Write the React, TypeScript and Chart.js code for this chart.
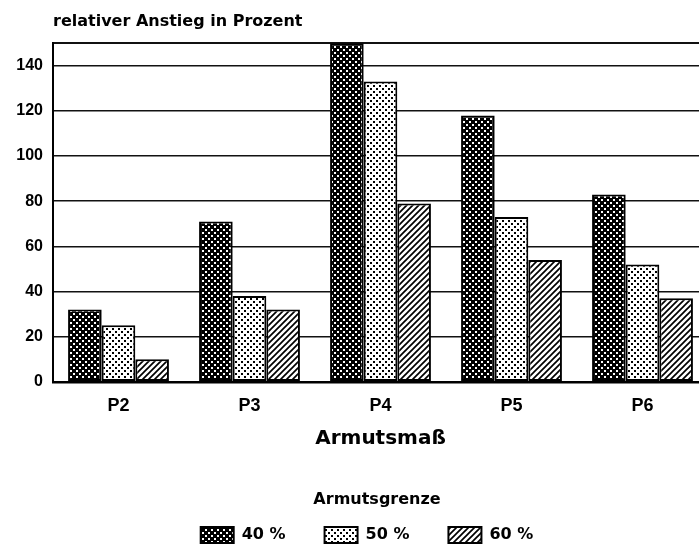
import React, { useEffect, useRef } from 'react';
import { Chart, registerables } from 'chart.js';

Chart.register(...registerables);

const categories = ['P2', 'P3', 'P4', 'P5', 'P6'];
const seriesLabels = ['40 %', '50 %', '60 %'];
const values40 = [32, 71, 150, 118, 83];
const values50 = [25, 38, 133, 73, 52];
const values60 = [10, 32, 79, 54, 37];
const yTickValues = [0, 20, 40, 60, 80, 100, 120, 140];

const WIDE = "'DejaVu Sans', 'Liberation Sans', Arial, sans-serif";
const SANS = "'Liberation Sans', Arial, sans-serif";

function makeTile(size: number, draw: (c: CanvasRenderingContext2D) => void): CanvasPattern {
  const cv = document.createElement('canvas');
  cv.width = size;
  cv.height = size;
  const c = cv.getContext('2d')!;
  draw(c);
  return c.createPattern(cv, 'repeat')!;
}

function darkPattern() {
  return makeTile(6, (c) => {
    c.fillStyle = '#000';
    c.fillRect(0, 0, 6, 6);
    c.fillStyle = '#fff';
    c.fillRect(1, 1, 2, 2);
    c.fillRect(4, 4, 2, 2);
  });
}

function lightPattern() {
  return makeTile(6, (c) => {
    c.fillStyle = '#fff';
    c.fillRect(0, 0, 6, 6);
    c.fillStyle = '#000';
    c.fillRect(1, 1, 2, 2);
    c.fillRect(4, 4, 2, 2);
  });
}

function hatchPattern() {
  return makeTile(6, (c) => {
    c.fillStyle = '#fff';
    c.fillRect(0, 0, 6, 6);
    c.strokeStyle = '#000';
    c.lineWidth = 1.7;
    c.beginPath();
    c.moveTo(-1, 7);
    c.lineTo(7, -1);
    c.moveTo(-1, 1);
    c.lineTo(1, -1);
    c.moveTo(5, 7);
    c.lineTo(7, 5);
    c.stroke();
  });
}

const placeBoxes = {
  id: 'placeBoxes',
  afterLayout(chart: any) {
    const ca = chart.chartArea;
    const lg = chart.legend;
    if (lg) {
      const target = 367;
      const d = target - (lg.left + lg.right) / 2;
      lg.left += d;
      lg.right += d;
      if (!lg.__titleWrapped) {
        ['drawTitle', '_drawTitle'].forEach((name) => {
          const orig = lg[name];
          if (typeof orig !== 'function') return;
          lg[name] = function (this: any, ...args: any[]) {
            this.ctx.save();
            this.ctx.translate(10, 0);
            const r = orig.apply(this, args);
            this.ctx.restore();
            return r;
          };
        });
        lg.__titleWrapped = true;
      }
    }
    const tb = chart.titleBlock;
    if (tb) {
      tb.left = ca.left;
    }
  },
};

export default function App() {
  const ref = useRef<HTMLCanvasElement | null>(null);

  useEffect(() => {
    if (!ref.current) return;
    const patterns = [darkPattern(), lightPattern(), hatchPattern()];
    const seriesValues = [values40, values50, values60];
    const chart = new Chart(ref.current, {
      type: 'bar',
      data: {
        labels: categories,
        datasets: seriesValues.map((vals, i) => ({
          label: seriesLabels[i],
          data: vals,
          backgroundColor: patterns[i],
          borderColor: '#000',
          borderWidth: 2,
          borderSkipped: false,
          categoryPercentage: 0.77,
          barPercentage: 1.0,
        })),
      },
      options: {
        animation: false,
        responsive: false,
        devicePixelRatio: 1,
        layout: { padding: { left: 0, right: 4, top: 0, bottom: 7 } },
        plugins: {
          tooltip: { enabled: false },
          title: {
            display: true,
            text: 'relativer Anstieg in Prozent',
            align: 'start',
            color: '#000',
            font: { family: WIDE, size: 16, weight: 'bold' },
            padding: { top: 12, bottom: 12 },
          },
          legend: {
            display: true,
            position: 'bottom',
            align: 'center',
            title: {
              display: true,
              text: 'Armutsgrenze',
              color: '#000',
              font: { family: WIDE, size: 16, weight: 'bold' },
              padding: { top: 0, bottom: -22.6 },
            },
            labels: {
              color: '#000',
              font: { family: WIDE, size: 16, weight: 'bold' },
              boxWidth: 33,
              boxHeight: 16,
              padding: 39,
            },
          },
        },
        scales: {
          x: {
            type: 'category',
            offset: true,
            grid: { display: false, drawTicks: false },
            border: { display: true, color: '#000', width: 2.5 },
            ticks: {
              color: '#000',
              font: { family: SANS, size: 18, weight: 'bold' },
              padding: 13,
            },
            title: {
              display: true,
              text: 'Armutsmaß',
              color: '#000',
              font: { family: WIDE, size: 20, weight: 'bold' },
              padding: { top: -3, bottom: 41 },
            },
          },
          y: {
            type: 'linear',
            min: 0,
            max: 150,
            afterBuildTicks: (scale: any) => {
              scale.ticks = [...yTickValues, 150].map((v) => ({ value: v }));
            },
            afterFit: (scale: any) => {
              scale.width = 53;
            },
            grid: {
              color: '#111',
              lineWidth: (ctx: any) => (ctx.tick && ctx.tick.value === 150 ? 2 : 1.5),
              drawTicks: false,
            },
            border: { display: true, color: '#000', width: 2 },
            ticks: {
              color: '#000',
              font: { family: SANS, size: 16, weight: 'bold' },
              padding: 10,
              callback: (v: any) => (yTickValues.includes(Number(v)) ? String(v) : ''),
            },
          },
        },
      },
      plugins: [placeBoxes],
    });
    return () => chart.destroy();
  }, []);

  return (
    <div
      style={{
        position: 'absolute',
        left: 0,
        top: 0,
        width: 699,
        height: 552,
        overflow: 'hidden',
        background: '#fff',
      }}
    >
      <canvas ref={ref} width={712} height={560} style={{ display: 'block' }} />
    </div>
  );
}
